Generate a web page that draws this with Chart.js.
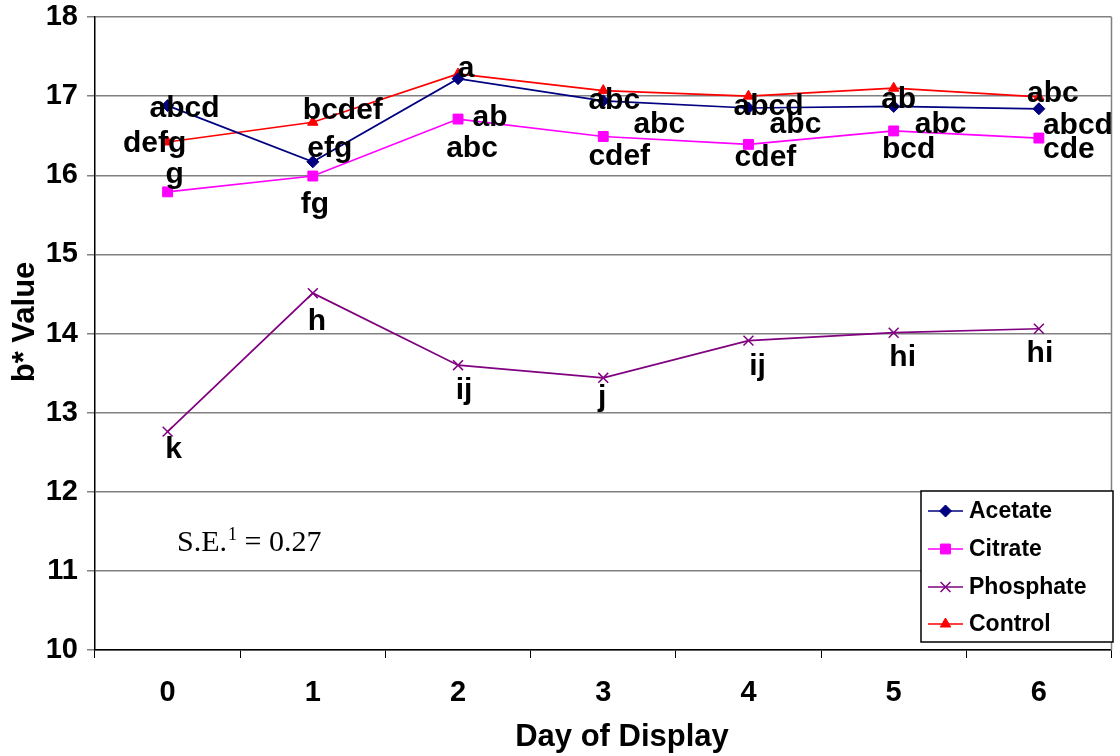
<!DOCTYPE html>
<html>
<head>
<meta charset="utf-8">
<script src="https://cdn.jsdelivr.net/npm/chart.js@4.4.1/dist/chart.umd.min.js"></script>
<style>
  body { margin: 0; background: #fff; }
</style>
</head>
<body>
<canvas id="bchart" width="1120" height="756"></canvas>
<script>
// day of display (x categories)
var days = ['0', '1', '2', '3', '4', '5', '6'];

// b* values
var acetate = [16.88, 16.17, 17.22, 16.94, 16.85, 16.87, 16.84];
var citrate = [15.79, 15.99, 16.71, 16.49, 16.39, 16.56, 16.47];
var phosphate = [12.76, 14.51, 13.60, 13.44, 13.91, 14.01, 14.06];
var control = [16.42, 16.67, 17.28, 17.07, 17.00, 17.10, 16.99];

// significance letters
var acetateLetters = ['abcd', 'efg', 'ab', 'abc', 'abc', 'abc', 'abcd'];
var citrateLetters = ['g', 'fg', 'abc', 'cdef', 'cdef', 'bcd', 'cde'];
var phosphateLetters = ['k', 'h', 'ij', 'j', 'ij', 'hi', 'hi'];
var controlLetters = ['defg', 'bcdef', 'a', 'abc', 'abcd', 'ab', 'abc'];

var yMin = 10, yMax = 18, yStep = 1;
var seText = 'S.E.', seSup = '1', seValue = ' = 0.27';

var sans = '"Liberation Sans", Arial, Helvetica, sans-serif';
var serif = '"Liberation Serif", "Times New Roman", serif';

// where each letter sits relative to its point (x shift, baseline shift)
var letterNudge = [
  [[17, 11], [17, -5], [32, 47], [56, 32], [47, 25], [47, 27], [39, 25]],
  [[7, -9], [2, 37], [14, 38], [16, 29], [17, 22], [15, 27], [30, 20]],
  [[6, 26], [4, 37], [6, 34], [-1, 28], [9, 34], [9, 33], [1, 33]],
  [[-13, 10], [30, -3], [8, 3], [11, 18], [20, 19], [5, 20], [14, 5]]
];
var seriesLetters = [acetateLetters, citrateLetters, phosphateLetters, controlLetters];

var extras = {
  id: 'extras',
  beforeDatasetsDraw: function (chart) {
    // right frame line
    var a = chart.chartArea, ctx = chart.ctx;
    ctx.save();
    ctx.strokeStyle = '#808080';
    ctx.lineWidth = 1.5;
    ctx.beginPath();
    ctx.moveTo(a.right, a.top);
    ctx.lineTo(a.right, a.bottom);
    ctx.stroke();
    ctx.restore();
  },
  afterDatasetsDraw: function (chart) {
    var ctx = chart.ctx;
    ctx.save();
    ctx.font = 'bold 30px ' + sans;
    ctx.fillStyle = '#000';
    ctx.textAlign = 'center';
    ctx.textBaseline = 'alphabetic';
    chart.data.datasets.forEach(function (ds, i) {
      var meta = chart.getDatasetMeta(i);
      meta.data.forEach(function (pt, j) {
        ctx.fillText(seriesLetters[i][j], pt.x + letterNudge[i][j][0], pt.y + letterNudge[i][j][1]);
      });
    });
    ctx.restore();
  },
  afterDraw: function (chart) {
    var ctx = chart.ctx;
    ctx.save();

    // axis titles
    ctx.fillStyle = '#000';
    ctx.font = 'bold 31px ' + sans;
    ctx.textAlign = 'center';
    ctx.textBaseline = 'middle';
    ctx.fillText('Day of Display', 622, 737);
    ctx.save();
    ctx.translate(25, 322);
    ctx.rotate(-Math.PI / 2);
    ctx.fillText('b* Value', 0, 0);
    ctx.restore();

    // S.E. note
    ctx.textAlign = 'left';
    ctx.textBaseline = 'alphabetic';
    ctx.font = '30px ' + serif;
    var x = 177;
    ctx.fillText(seText, x, 551);
    x += ctx.measureText(seText).width + 1;
    ctx.font = '18px ' + serif;
    ctx.fillText(seSup, x, 540);
    x += ctx.measureText(seSup).width;
    ctx.font = '30px ' + serif;
    ctx.fillText(seValue, x, 551);

    // legend box
    var lx = 921, ly = 491, lw = 192, lh = 151;
    ctx.fillStyle = '#fff';
    ctx.fillRect(lx, ly, lw, lh);
    ctx.strokeStyle = '#000';
    ctx.lineWidth = 1.5;
    ctx.strokeRect(lx, ly, lw, lh);
    var rowY = [511, 549, 587, 624];
    chart.data.datasets.forEach(function (ds, i) {
      var y = rowY[i];
      ctx.strokeStyle = ds.borderColor;
      ctx.lineWidth = 1.5;
      ctx.beginPath();
      ctx.moveTo(928, y);
      ctx.lineTo(963, y);
      ctx.stroke();
      ctx.fillStyle = ds.backgroundColor;
      ctx.strokeStyle = ds.borderColor;
      ctx.lineWidth = ds.pointBorderWidth;
      Chart.helpers.drawPoint(ctx, {
        pointStyle: ds.pointStyle,
        radius: ds.pointRadius,
        rotation: 0,
        borderWidth: ds.pointBorderWidth
      }, 945.5, y);
      ctx.fillStyle = '#000';
      ctx.font = 'bold 23px ' + sans;
      ctx.textAlign = 'left';
      ctx.textBaseline = 'middle';
      ctx.fillText(ds.label, 969, y + 1);
    });
    ctx.restore();
  }
};

var ctx = document.getElementById('bchart').getContext('2d');
var bChart = new Chart(ctx, {
  type: 'line',
  data: {
    labels: days,
    datasets: [
      { label: 'Acetate', data: acetate, borderColor: '#000080', backgroundColor: '#000080',
        pointStyle: 'rectRot', pointRadius: 6, pointBorderWidth: 1, borderWidth: 1.7, tension: 0 },
      { label: 'Citrate', data: citrate, borderColor: '#FF00FF', backgroundColor: '#FF00FF',
        pointStyle: 'rect', pointRadius: 7, pointBorderWidth: 1, borderWidth: 1.7, tension: 0 },
      { label: 'Phosphate', data: phosphate, borderColor: '#800080', backgroundColor: '#800080',
        pointStyle: 'crossRot', pointRadius: 7, pointBorderWidth: 1.5, borderWidth: 1.7, tension: 0 },
      { label: 'Control', data: control, borderColor: '#FF0000', backgroundColor: '#FF0000',
        pointStyle: 'triangle', pointRadius: 6, pointBorderWidth: 1, borderWidth: 1.7, tension: 0 }
    ]
  },
  options: {
    responsive: false,
    animation: false,
    layout: { padding: { top: 17, right: 7, left: 0, bottom: 0 } },
    plugins: {
      legend: { display: false },
      tooltip: { enabled: false }
    },
    scales: {
      x: {
        offset: true,
        grid: { offset: true, drawOnChartArea: false, drawTicks: true, tickLength: 8, color: '#000', lineWidth: 1 },
        border: { color: '#000', width: 1.5 },
        ticks: { color: '#000', font: { family: sans, size: 29, weight: 'bold' }, padding: 18, maxRotation: 0 },
        afterFit: function (scale) {
          scale.height = 106;
          scale.paddingLeft = 0;
          scale.paddingRight = 0;
        }
      },
      y: {
        min: yMin,
        max: yMax,
        ticks: { stepSize: yStep, color: '#000', font: { family: sans, size: 29, weight: 'bold' }, padding: 9 },
        grid: { color: '#808080', lineWidth: 1.5, tickLength: 8 },
        border: { color: '#000', width: 1.5 },
        afterFit: function (scale) {
          scale.width = 95;
          scale.paddingTop = 0;
          scale.paddingBottom = 0;
        }
      }
    }
  },
  plugins: [extras]
});
</script>
</body>
</html>
